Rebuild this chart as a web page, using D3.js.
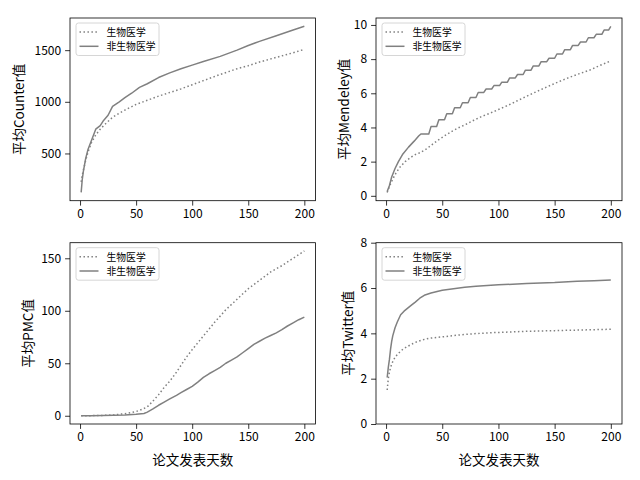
<!DOCTYPE html>
<html><head><meta charset="utf-8">
<script src="https://cdn.jsdelivr.net/npm/d3@7"></script>
<style>
html,body{margin:0;padding:0;background:#fff;}
svg{display:block;font-family:"Noto Sans CJK SC","Noto Sans",sans-serif;}
</style></head>
<body><svg id="c" width="640" height="480"></svg>
<script>
// ---------- data ----------
const seriesNames = ["生物医学", "非生物医学"];
const xTicks = [0, 50, 100, 150, 200];
const xLabel = "论文发表天数";

// Counter
const counterBioDays = [1,2,3,5,7,10,14,18,23,29,35,40,50,60,70,80,90,100,110,125,140,150,160,175,190,200];
const counterBioVals = [225,290,340,430,510,600,680,735,790,850,890,920,975,1015,1055,1090,1125,1165,1205,1265,1320,1350,1385,1430,1475,1508];
const counterNonDays = [1,2,3,5,7,10,14,18,21,25,29,35,40,46,53,60,70,80,90,100,110,125,140,150,160,175,190,200];
const counterNonVals = [123,250,330,450,535,620,735,770,820,870,955,1000,1040,1083,1140,1175,1235,1280,1320,1355,1390,1440,1500,1545,1585,1640,1695,1731];
const counterYTicks = [500, 1000, 1500];

// Mendeley
const mendBioDays = [1,3,5,8,12,17,22,26,30,35,41,47,53,59,65,71,78,86,92,100,106,114,122,130,140,151,160,170,181,190,200];
const mendBioVals = [0.2,0.55,0.85,1.24,1.65,2.0,2.25,2.41,2.52,2.7,3.0,3.29,3.55,3.79,4.0,4.18,4.42,4.67,4.82,5.05,5.22,5.47,5.73,5.98,6.28,6.6,6.85,7.1,7.35,7.62,7.9];
const mendNonDays = [1,3,5,8,11,15,20,25,29,31,38,40,45,47,52,54,59,61,66,68,73,75,80,82,87,89,94,96,101,103,108,110,115,117,122,124,129,131,136,138,143,145,150,152,157,159,164,166,171,173,178,180,185,187,192,194,198,200];
const mendNonVals = [0.25,0.6,1.1,1.6,2.0,2.45,2.85,3.2,3.5,3.62,3.62,4.05,4.05,4.45,4.45,4.8,4.8,5.15,5.15,5.45,5.45,5.75,5.75,6.05,6.05,6.25,6.25,6.45,6.45,6.65,6.65,6.9,6.9,7.1,7.1,7.35,7.35,7.6,7.6,7.85,7.85,8.05,8.05,8.3,8.3,8.55,8.55,8.8,8.8,9.0,9.0,9.25,9.25,9.45,9.45,9.7,9.7,9.92];
const mendYTicks = [0, 2, 4, 6, 8, 10];

// PMC
const pmcBioDays = [1,10,20,30,40,50,55,60,65,70,75,80,85,90,95,100,110,120,130,140,150,160,170,180,190,200];
const pmcBioVals = [0,0.1,0.3,0.8,2,4,6,8.5,14,20,27,33,40,48,56,63,76,89,101,111,121,129,137,143,150,157];
const pmcNonDays = [1,10,20,30,40,50,57,60,65,70,75,80,86,90,95,100,105,110,115,120,125,130,135,140,145,150,155,160,165,170,175,180,185,190,195,200];
const pmcNonVals = [0,0.1,0.2,0.4,0.8,1.5,2.2,3.5,6.5,10,13,16,19.5,22,25,28,32,36.5,40,43,46,50,53,56,60,64,68,71,74,76.5,79,82,85.5,88.5,91.5,94];
const pmcYTicks = [0, 50, 100, 150];

// Twitter
const twBioDays = [1,2,3,5,8,11,15,19,24,28,33,38,45,53,60,70,80,95,110,125,150,175,200];
const twBioVals = [1.5,2.0,2.3,2.65,2.95,3.12,3.3,3.42,3.55,3.64,3.72,3.78,3.82,3.86,3.9,3.95,3.99,4.03,4.06,4.09,4.12,4.15,4.18];
const twNonDays = [1,2,3,4,5,6,8,10,13,16,19,22,26,30,34,40,50,60,70,80,100,125,150,170,185,200];
const twNonVals = [2.05,2.5,2.85,3.3,3.65,3.9,4.25,4.5,4.82,4.98,5.1,5.22,5.38,5.55,5.68,5.78,5.9,5.97,6.03,6.08,6.14,6.2,6.24,6.3,6.32,6.35];
const twYTicks = [0, 2, 4, 6, 8];

// ---------- panels ----------
const panels = [
  {ylabel:"平均Counter值", bioD:counterBioDays, bioV:counterBioVals, nonD:counterNonDays, nonV:counterNonVals, yTicks:counterYTicks, ylim:null,
   box:{l:70, r:315.5, t:18, b:200.7}, ylabX:18, xlab:false},
  {ylabel:"平均Mendeley值", bioD:mendBioDays, bioV:mendBioVals, nonD:mendNonDays, nonV:mendNonVals, yTicks:mendYTicks, ylim:null,
   box:{l:376, r:622, t:18, b:200.7}, ylabX:342.5, xlab:false},
  {ylabel:"平均PMC值", bioD:pmcBioDays, bioV:pmcBioVals, nonD:pmcNonDays, nonV:pmcNonVals, yTicks:pmcYTicks, ylim:null,
   box:{l:70, r:315.5, t:242.7, b:424}, ylabX:27, xlab:true},
  {ylabel:"平均Twitter值", bioD:twBioDays, bioV:twBioVals, nonD:twNonDays, nonV:twNonVals, yTicks:twYTicks, ylim:[0,8],
   box:{l:376, r:622, t:242.7, b:424}, ylabX:347, xlab:true}
];

const svg = d3.select("#c");
const lineColor = "#808080";

function padded(ext){ const s = ext[1]-ext[0]; return [ext[0]-0.05*s, ext[1]+0.05*s]; }

panels.forEach((p) => {
  const b = p.box;
  const allD = p.bioD.concat(p.nonD);
  const allV = p.bioV.concat(p.nonV);
  const x = d3.scaleLinear().domain(padded(d3.extent(allD))).range([b.l, b.r]);
  const y = d3.scaleLinear().domain(p.ylim ? p.ylim : padded(d3.extent(allV))).range([b.b, b.t]);
  const g = svg.append("g");

  const clipId = "clip" + Math.round(b.l) + "_" + Math.round(b.t);
  svg.append("clipPath").attr("id", clipId).append("rect")
    .attr("x", b.l).attr("y", b.t).attr("width", b.r-b.l).attr("height", b.b-b.t);

  const line = d3.line().x(d => x(d[0])).y(d => y(d[1]));
  const bio = p.bioD.map((d,i) => [d, p.bioV[i]]);
  const non = p.nonD.map((d,i) => [d, p.nonV[i]]);

  g.append("path").datum(bio).attr("d", line).attr("clip-path", `url(#${clipId})`)
    .attr("fill","none").attr("stroke", lineColor).attr("stroke-width",1.5)
    .attr("stroke-dasharray","1.5,2.475");
  g.append("path").datum(non).attr("d", line).attr("clip-path", `url(#${clipId})`)
    .attr("fill","none").attr("stroke", lineColor).attr("stroke-width",1.5)
    .attr("stroke-linejoin","round");

  // axes
  const xa = g.append("g").attr("transform", `translate(0,${b.b})`)
    .call(d3.axisBottom(x).tickValues(xTicks).tickSize(4.9).tickPadding(3.5).tickFormat(d3.format("d")));
  const ya = g.append("g").attr("transform", `translate(${b.l},0)`)
    .call(d3.axisLeft(y).tickValues(p.yTicks).tickSize(4.9).tickPadding(4).tickFormat(d3.format("d")));
  [xa, ya].forEach(a => {
    a.select(".domain").remove();
    a.selectAll(".tick line").attr("stroke","#000").attr("stroke-width",0.8);
    a.selectAll(".tick text").attr("fill","#000").style("font-size","12px")
      .style("font-family",'"Noto Sans CJK SC","Noto Sans",sans-serif');
  });

  // frame
  g.append("rect").attr("x", b.l).attr("y", b.t).attr("width", b.r-b.l).attr("height", b.b-b.t)
    .attr("fill","none").attr("stroke","#000").attr("stroke-width",0.8);

  // y label
  g.append("text").attr("transform", `translate(${p.ylabX},${(b.t+b.b)/2}) rotate(-90)`)
    .attr("text-anchor","middle").attr("dominant-baseline","central")
    .style("font-size","13.5px").text(p.ylabel);
  if (p.xlab) {
    g.append("text").attr("x", (b.l+b.r)/2).attr("y", b.b+35).attr("text-anchor","middle")
      .attr("dominant-baseline","central").style("font-size","13.5px").text(xLabel);
  }

  // legend
  const lx = b.l + 6, ly = b.t + 5;
  const lg = g.append("g");
  lg.append("rect").attr("x", lx).attr("y", ly).attr("width", 83).attr("height", 32.5)
    .attr("rx", 2.5).attr("fill","#fff").attr("fill-opacity",0.8).attr("stroke","#cccccc").attr("stroke-width",0.8);
  const rows = [{name:seriesNames[0], dash:"1.5,2.475"}, {name:seriesNames[1], dash:null}];
  rows.forEach((r,i) => {
    const cy = ly + 9 + i*14.3;
    const hl = lg.append("line").attr("x1", lx+3.5).attr("x2", lx+22.5).attr("y1", cy).attr("y2", cy)
      .attr("stroke", lineColor).attr("stroke-width",1.5);
    if (r.dash) hl.attr("stroke-dasharray", r.dash);
    lg.append("text").attr("x", lx+30.5).attr("y", cy).attr("dominant-baseline","central")
      .style("font-size","9.8px").attr("fill","#000").text(r.name);
  });
});
</script>
</body></html>
